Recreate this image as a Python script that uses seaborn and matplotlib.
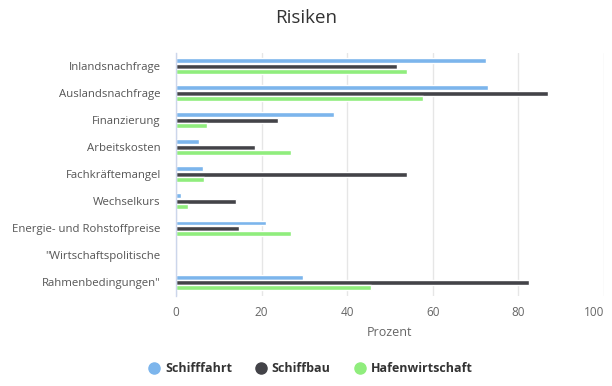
import numpy as np
import pandas as pd
import matplotlib
matplotlib.use("Agg")
import matplotlib.pyplot as plt
from matplotlib.lines import Line2D
from matplotlib.ticker import FixedLocator
import seaborn as sns

categories = ["Inlandsnachfrage", "Auslandsnachfrage", "Finanzierung", "Arbeitskosten",
              "Fachkräftemangel", "Wechselkurs", "Energie- und Rohstoffpreise",
              "\"Wirtschaftspolitische", "Rahmenbedingungen\""]
series_names = ["Schifffahrt", "Schiffbau", "Hafenwirtschaft"]
schifffahrt = [72.4, 72.8, 36.9, 5.4, 6.3, 1.2, 21.0, None, 29.7]
schiffbau = [51.6, 86.9, 23.8, 18.4, 53.9, 14.0, 14.7, None, 82.4]
hafenwirtschaft = [53.9, 57.7, 7.2, 26.9, 6.5, 2.8, 26.9, None, 45.5]
colors = ["#7cb5ec", "#434348", "#90ed7d"]
x_ticks = [0, 20, 40, 60, 80, 100]

rows = []
for name, vals in zip(series_names, [schifffahrt, schiffbau, hafenwirtschaft]):
    for cat, v in zip(categories, vals):
        if v is not None:
            rows.append({"Kategorie": cat, "Serie": name, "Wert": v})
df = pd.DataFrame(rows)

sns.set_theme(style="white")
plt.rcParams["font.family"] = ["Open Sans", "DejaVu Sans"]

fig = plt.figure(figsize=(6.12, 3.86), dpi=100)
ax = fig.add_axes([176/612, 1-296/386, 428/612, (296-52.7)/386])

sns.barplot(data=df, y="Kategorie", x="Wert", hue="Serie", order=categories,
            hue_order=series_names, palette=colors, orient="h", errorbar=None,
            width=0.6, gap=0.08, ax=ax, legend=False, saturation=1)

ax.set_xlim(0, 100)
ax.set_ylim(len(categories)-0.5, -0.5)
ax.set_xticks(x_ticks)
ax.set_xticklabels([str(t) for t in x_ticks])
ax.grid(axis="x", color="#e6e6e6", linewidth=1)
ax.set_axisbelow(True)
for s in ["top", "right", "bottom"]:
    ax.spines[s].set_visible(False)
ax.spines["left"].set_color("#ccd6eb")
ax.spines["left"].set_linewidth(1)

ax.tick_params(axis="x", length=0, pad=7, labelsize=8.5, labelcolor="#666666")
ax.get_xticklabels()[-1].set_horizontalalignment("right")
ax.tick_params(axis="y", which="major", length=0, pad=11, labelsize=8.2, labelcolor="#555555")
ax.yaxis.set_minor_locator(FixedLocator(np.arange(-0.5, len(categories), 1.0)))
ax.tick_params(axis="y", which="minor", length=7.5, width=1, color="#ccd6eb")

ax.set_ylabel("")
ax.set_xlabel("Prozent", color="#666666", fontsize=9, labelpad=5)

fig.text(306/612, 1-18/386, "Risiken", ha="center", va="center", fontsize=13.5, color="#333333")

handles = [Line2D([0], [0], marker="o", linestyle="", markersize=8,
                  markerfacecolor=c, markeredgecolor=c) for c in colors]
fig.legend(handles, series_names, loc="center", bbox_to_anchor=(310/612, 1-369/386),
           ncol=3, frameon=False, prop={"weight": "bold", "size": 9},
           labelcolor="#333333", handletextpad=0.4, columnspacing=1.8, handlelength=1.0)

fig.savefig("out.png", dpi=100)
